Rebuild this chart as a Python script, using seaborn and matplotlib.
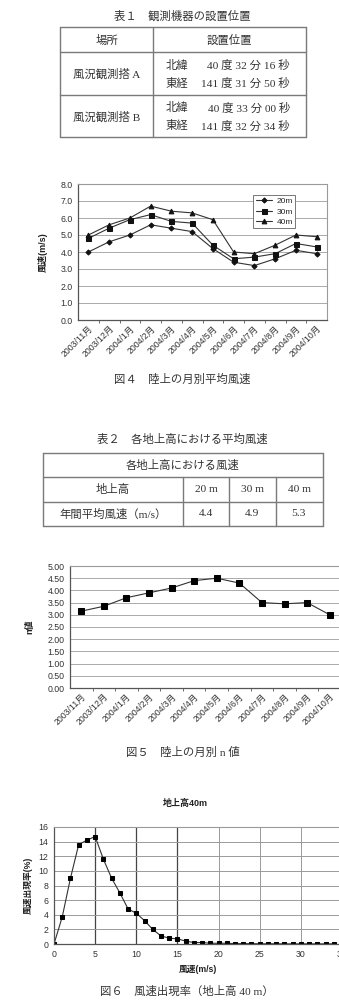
import numpy as np
import pandas as pd
import matplotlib
matplotlib.use("Agg")
import matplotlib.pyplot as plt
from matplotlib.lines import Line2D
from matplotlib.ticker import FormatStrFormatter, MultipleLocator, FixedLocator
import seaborn as sns

sns.set_theme(style="white")
SANS = ["Liberation Sans", "Noto Sans CJK JP"]
SERIF = ["Liberation Serif", "Noto Sans CJK JP"]
plt.rcParams["font.family"] = SANS

# ---------------- data ----------------
table1_title = "表１　観測機器の設置位置"
table1_header = ["場所", "設置位置"]
table1_sites = ["風況観測搭 A", "風況観測搭 B"]
table1_lat_label = ["北緯", "北緯"]
table1_lat = ["40 度 32 分 16 秒", "40 度 33 分 00 秒"]
table1_lon_label = ["東経", "東経"]
table1_lon = ["141 度 31 分 50 秒", "141 度 32 分 34 秒"]

months = ["2003/11月", "2003/12月", "2004/1月", "2004/2月", "2004/3月", "2004/4月",
          "2004/5月", "2004/6月", "2004/7月", "2004/8月", "2004/9月", "2004/10月"]
speed_20m = [4.0, 4.6, 5.0, 5.6, 5.4, 5.2, 4.2, 3.4, 3.2, 3.6, 4.1, 3.9]
speed_30m = [4.8, 5.4, 5.9, 6.2, 5.8, 5.7, 4.4, 3.6, 3.7, 3.9, 4.5, 4.3]
speed_40m = [5.0, 5.6, 6.0, 6.7, 6.4, 6.3, 5.9, 4.0, 3.9, 4.4, 5.0, 4.9]
heights = ["20m", "30m", "40m"]
fig4_caption = "図４　陸上の月別平均風速"

table2_title = "表２　各地上高における平均風速"
table2_header = "各地上高における風速"
table2_row1 = ["地上高", "20 m", "30 m", "40 m"]
table2_row2 = ["年間平均風速（m/s）", "4.4", "4.9", "5.3"]

n_values = [3.15, 3.35, 3.7, 3.9, 4.1, 4.4, 4.5, 4.3, 3.5, 3.45, 3.5, 3.0]
fig5_caption = "図５　陸上の月別 n 値"

freq_speed = list(range(0, 35))
freq_rate = [0.0, 3.7, 9.0, 13.6, 14.2, 14.7, 11.6, 9.0, 7.0, 4.8,
             4.2, 3.2, 2.0, 1.1, 0.8, 0.7, 0.4, 0.2, 0.2, 0.1,
             0.1, 0.1, 0.05, 0.05, 0.05, 0.03, 0.03, 0.03, 0.02, 0.02,
             0.02, 0.02, 0.02, 0.02, 0.02]
fig6_title = "地上高40m"
fig6_caption = "図６　風速出現率（地上高 40 m）"

# ---------------- figure helpers ----------------
W, H = 339, 1002
fig = plt.figure(figsize=(W / 100, H / 100), dpi=100)
fig.patch.set_facecolor("white")


def ax_px(x0, y0, x1, y1):
    return fig.add_axes([x0 / W, 1 - y1 / H, (x1 - x0) / W, (y1 - y0) / H])


def ftext(x, y, s, size=8.2, family=SERIF, ha="center", color="#333333", **kw):
    fig.text(x / W, 1 - y / H, s, ha=ha, va="center", fontsize=size,
             family=family, color=color, **kw)


def fline(x0, y0, x1, y1, color="#7a7a7a", lw=1.0):
    fig.add_artist(Line2D([x0 / W, x1 / W], [1 - y0 / H, 1 - y1 / H],
                          color=color, lw=lw))


def frect(x0, y0, x1, y1):
    fline(x0, y0, x1, y0)
    fline(x0, y1, x1, y1)
    fline(x0, y0, x0, y1)
    fline(x1, y0, x1, y1)


# ---------------- Table 1 ----------------
ftext(182, 16, table1_title)
frect(60, 27, 306, 137)
fline(60, 52, 306, 52)
fline(60, 95, 306, 95)
fline(153, 27, 153, 137)
ftext(107, 40, table1_header[0])
ftext(229, 40, table1_header[1])
for i, yc in enumerate([74, 117]):
    ftext(107, yc, table1_sites[i])
    ftext(166, yc - 9, table1_lat_label[i], ha="left")
    ftext(290, yc - 9, table1_lat[i], ha="right")
    ftext(166, yc + 9, table1_lon_label[i], ha="left")
    ftext(290, yc + 9, table1_lon[i], ha="right")

TICK = 6.3


def style_chart(ax, tick_size=TICK):
    for s in ["left", "bottom"]:
        ax.spines[s].set_color("#555555")
        ax.spines[s].set_linewidth(0.9)
    for s in ["top", "right"]:
        ax.spines[s].set_color("#9a9a9a")
        ax.spines[s].set_linewidth(0.8)
    ax.tick_params(axis="both", labelsize=tick_size, colors="#333333",
                   length=2, width=0.6, pad=2)
    ax.set_xlabel("")
    ax.set_ylabel("")


def month_axis(ax, n):
    ax.set_xlim(-0.5, n - 0.5)
    ax.xaxis.set_major_locator(FixedLocator(np.arange(n)))
    ax.set_xticklabels(months, rotation=45, ha="right", rotation_mode="anchor",
                       fontsize=6.3, color="#333333")
    ax.tick_params(axis="x", which="major", length=0, pad=3)
    ax.xaxis.set_minor_locator(FixedLocator(np.arange(n - 1) + 0.5))
    ax.tick_params(axis="x", which="minor", length=2.5, width=0.6,
                   color="#555555", bottom=True)


# ---------------- Fig 4 ----------------
ax4 = ax_px(78, 184, 327, 320)
df4 = pd.DataFrame({"month": months * 3,
                    "height": np.repeat(heights, len(months)),
                    "speed": speed_20m + speed_30m + speed_40m})
mk = {"20m": ("D", 2.6), "30m": ("s", 3.6), "40m": ("^", 3.4)}
for h in heights:
    sub = df4[df4["height"] == h]
    sns.lineplot(data=sub, x="month", y="speed", ax=ax4, sort=False,
                 color="#333333", lw=0.8, marker=mk[h][0], markersize=mk[h][1],
                 markeredgecolor="#111111", markerfacecolor="#111111",
                 label=h, legend=False)
ax4.set_ylim(0, 8)
ax4.yaxis.set_major_locator(MultipleLocator(1.0))
ax4.yaxis.set_major_formatter(FormatStrFormatter("%.1f"))
ax4.grid(axis="y", color="#aaaaaa", lw=0.7)
ax4.set_axisbelow(True)
style_chart(ax4)
month_axis(ax4, len(months))
leg = ax4.legend(handles=ax4.lines[:3], labels=heights, loc="upper left",
                 bbox_to_anchor=(0.687, 0.95), fontsize=6.0, frameon=True,
                 fancybox=False, edgecolor="#777777", framealpha=1,
                 handlelength=2.0, borderpad=0.3, labelspacing=0.3,
                 handletextpad=0.5)
leg.get_frame().set_linewidth(0.7)
ftext(43, 252, "風速(m/s)", size=6.5, family=SANS, rotation=90,
      fontweight="bold", color="#222222")
ftext(182, 379, fig4_caption)

# ---------------- Table 2 ----------------
ftext(182, 439, table2_title)
frect(43, 453, 323, 526)
fline(43, 477, 323, 477)
fline(43, 502, 323, 502)
for xv in [183, 229, 276]:
    fline(xv, 477, xv, 526)
ftext(183, 465, table2_header)
col_c = [113, 206, 252, 299]
for j in range(4):
    ftext(col_c[j], 489, table2_row1[j])
    ftext(col_c[j], 514, table2_row2[j])

# ---------------- Fig 5 ----------------
ax5 = ax_px(70, 566, 341, 688)
sns.lineplot(x=months, y=n_values, ax=ax5, sort=False, color="#333333", lw=0.8,
             marker="s", markersize=5, markeredgecolor="#000000",
             markerfacecolor="#000000")
ax5.set_ylim(0, 5)
ax5.yaxis.set_major_locator(MultipleLocator(0.5))
ax5.yaxis.set_major_formatter(FormatStrFormatter("%.2f"))
ax5.grid(axis="y", color="#aaaaaa", lw=0.7)
ax5.set_axisbelow(True)
style_chart(ax5)
month_axis(ax5, len(months))
ftext(30, 627, "n値", size=6.5, family=SANS, rotation=90,
      fontweight="bold", color="#222222")
ftext(183, 752, fig5_caption)

# ---------------- Fig 6 ----------------
ax6 = ax_px(54, 827, 342, 944)
sns.lineplot(x=freq_speed, y=freq_rate, ax=ax6, color="#333333", lw=0.8,
             marker="s", markersize=2.8, markeredgecolor="#000000",
             markerfacecolor="#000000")
ax6.set_xlim(0, 35)
ax6.set_ylim(0, 16)
ax6.xaxis.set_major_locator(MultipleLocator(5))
ax6.yaxis.set_major_locator(MultipleLocator(2))
ax6.grid(True, color="#9a9a9a", lw=0.7)
ax6.set_axisbelow(True)
for gl, v in zip(ax6.get_xgridlines(), ax6.get_xticks()):
    if v in (5, 10, 15):
        gl.set_color("#444444")
        gl.set_linewidth(0.9)
style_chart(ax6)
ax6.tick_params(axis="x", length=0, pad=4)
ftext(28, 885, "風速出現率(%)", size=6.3, family=SANS, rotation=90,
      fontweight="bold", color="#222222")
ftext(198, 970, "風速(m/s)", size=6.3, family=SANS, fontweight="bold",
      color="#222222")
ftext(185, 803, fig6_title, size=6.5, family=SANS, fontweight="bold",
      color="#222222")
ftext(187, 991, fig6_caption)

fig.savefig("out.png", dpi=100, facecolor="white")
